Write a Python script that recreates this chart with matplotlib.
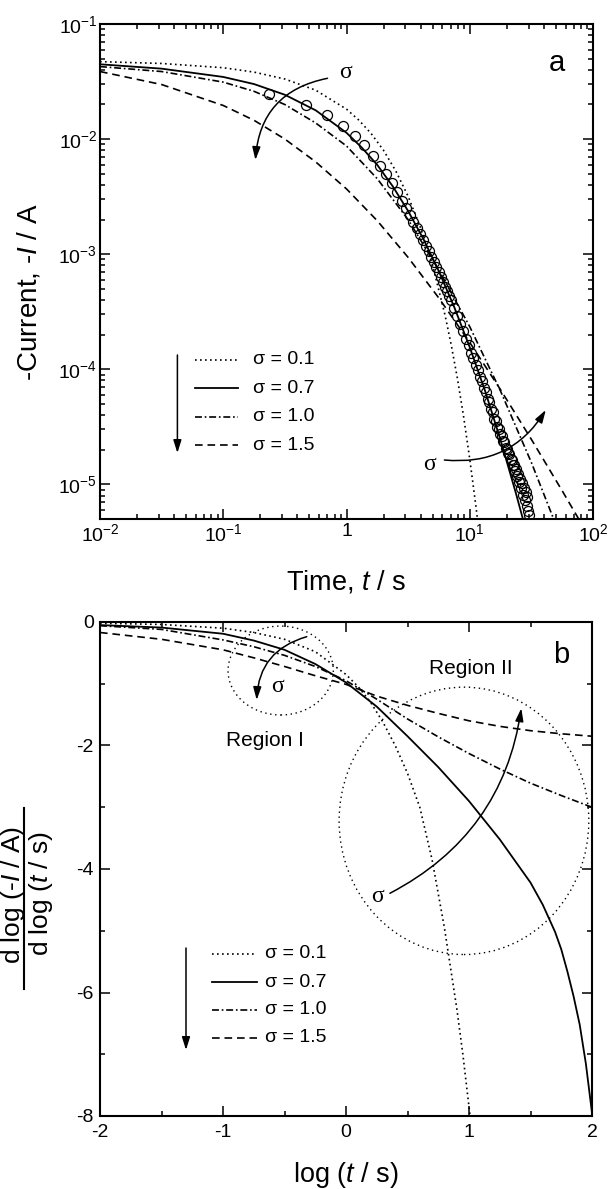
import numpy as np
import matplotlib
matplotlib.use('Agg')
import matplotlib.pyplot as plt
from matplotlib.lines import Line2D
from matplotlib.patches import Ellipse, FancyArrowPatch
from matplotlib.ticker import LogLocator, NullFormatter, MultipleLocator

plt.rcParams['font.family'] = ['Liberation Sans', 'DejaVu Sans']
plt.rcParams['mathtext.fontset'] = 'custom'
plt.rcParams['mathtext.rm'] = 'Liberation Sans'
plt.rcParams['mathtext.it'] = 'Liberation Sans:italic'
plt.rcParams['mathtext.sf'] = 'Liberation Sans'
plt.rcParams['axes.unicode_minus'] = False
plt.rcParams['lines.scale_dashes'] = False

W, H = 612, 1189

sigma_labels = ['σ = 0.1', 'σ = 0.7', 'σ = 1.0', 'σ = 1.5']

# ---- (a) simulated transients: log10(t / s) and log10(-I / A)
a_logt_01 = [-2.0, -1.5, -1.0, -0.75, -0.5, -0.25, 0.0, 0.1, 0.2, 0.3, 0.4,
             0.5, 0.6, 0.7, 0.8, 0.85, 0.9, 0.95, 1.0, 1.05, 1.07]
a_logi_01 = [-1.327, -1.343, -1.380, -1.418, -1.478, -1.575, -1.740, -1.835,
             -1.952, -2.097, -2.277, -2.497, -2.768, -3.103, -3.532, -3.79,
             -4.08, -4.41, -4.78, -5.19, -5.37]

a_logt_07 = [-2.0, -1.5, -1.0, -0.75, -0.5, -0.25, 0.0, 0.125, 0.25, 0.375,
             0.5, 0.625, 0.75, 0.875, 1.0, 1.125, 1.25, 1.375, 1.45]
a_logi_07 = [-1.350, -1.388, -1.460, -1.522, -1.615, -1.750, -1.945, -2.075,
             -2.225, -2.41, -2.625, -2.870, -3.150, -3.462, -3.809, -4.19,
             -4.615, -5.079, -5.375]

a_logt_10 = [-2.0, -1.5, -1.0, -0.75, -0.5, -0.25, 0.0, 0.25, 0.5, 0.75, 1.0,
             1.25, 1.5, 1.75]
a_logi_10 = [-1.370, -1.413, -1.505, -1.585, -1.700, -1.860, -2.060, -2.345,
             -2.700, -3.140, -3.630, -4.190, -4.810, -5.490]

a_logt_15 = [-2.0, -1.5, -1.0, -0.75, -0.5, -0.25, 0.0, 0.25, 0.5, 0.75, 1.0,
             1.25, 1.5, 1.75, 2.0]
a_logi_15 = [-1.413, -1.526, -1.708, -1.837, -2.000, -2.198, -2.433, -2.710,
             -3.028, -3.382, -3.767, -4.178, -4.609, -5.056, -5.513]

# measured transient (open circles): t in s, log10(-I / A)
t_meas = [0.233, 0.466, 0.699, 0.932, 1.165, 1.398, 1.631, 1.864, 2.097, 2.33,
          2.563, 2.796, 3.029, 3.262, 3.495, 3.728, 3.961, 4.194, 4.427, 4.66,
          4.893, 5.126, 5.359, 5.592, 5.825, 6.058, 6.291, 6.524, 6.757, 6.99,
          7.456, 7.922, 8.388, 8.854, 9.32, 9.786, 10.252, 10.718, 11.184,
          11.65, 12.116, 12.582, 13.048, 13.514, 13.98, 14.446, 14.912,
          15.378, 15.844, 16.31, 16.776, 17.242, 17.708, 18.174, 18.64,
          19.106, 19.572, 20.038, 20.504, 20.97, 21.436, 21.902, 22.368,
          22.834, 23.3, 23.766, 24.232, 24.698, 25.164, 25.63, 26.096,
          26.562, 27.028, 27.494, 27.96, 28.426, 28.892, 29.358, 29.824, 30.29]
logi_meas = [-1.61, -1.70, -1.795, -1.885, -1.97, -2.055, -2.145, -2.23,
             -2.305, -2.385, -2.46, -2.535, -2.60, -2.66, -2.72, -2.775,
             -2.825, -2.875, -2.93, -2.975, -3.025, -3.07, -3.115, -3.155,
             -3.20, -3.24, -3.285, -3.32, -3.36, -3.395,
             -3.47, -3.535, -3.61, -3.665, -3.735, -3.785, -3.855, -3.90,
             -3.965, -4.005, -4.07, -4.10, -4.165, -4.195, -4.26, -4.285,
             -4.345, -4.37, -4.43, -4.45, -4.50, -4.52, -4.56, -4.58, -4.62,
             -4.635, -4.68, -4.69, -4.73, -4.74, -4.78, -4.785, -4.83, -4.83,
             -4.88, -4.87, -4.93, -4.91, -4.98, -4.95, -5.03, -4.99, -5.09,
             -5.03, -5.14, -5.07, -5.19, -5.11, -5.23, -5.27]

# ---- (b) logarithmic derivative d log(-I) / d log(t)
b_logt_01 = [-2.0, -1.5, -1.0, -0.75, -0.5, -0.25, 0.0, 0.1, 0.2, 0.3, 0.4,
             0.5, 0.6, 0.7, 0.8, 0.9, 0.95, 1.0, 1.01]
b_slope_01 = [-0.02, -0.04, -0.10, -0.17, -0.28, -0.48, -0.85, -1.05, -1.30,
              -1.62, -2.00, -2.45, -3.00, -3.85, -4.95, -6.25, -7.00, -7.85,
              -8.02]

b_logt_07 = [-2.0, -1.5, -1.0, -0.75, -0.5, -0.25, 0.0, 0.25, 0.5, 0.75, 1.0,
             1.25, 1.5, 1.6, 1.7, 1.75, 1.8, 1.85, 1.9, 1.95, 2.0]
b_slope_07 = [-0.05, -0.09, -0.19, -0.30, -0.45, -0.68, -0.98, -1.37, -1.85,
              -2.35, -2.90, -3.52, -4.22, -4.58, -5.02, -5.30, -5.66, -6.06,
              -6.52, -7.15, -7.95]

b_logt_10 = [-2.0, -1.5, -1.0, -0.75, -0.5, -0.25, 0.0, 0.25, 0.5, 0.75, 1.0,
             1.25, 1.5, 1.75, 2.0]
b_slope_10 = [-0.06, -0.12, -0.29, -0.40, -0.54, -0.72, -0.95, -1.25, -1.57,
              -1.86, -2.13, -2.38, -2.61, -2.81, -3.00]

b_logt_15 = [-2.0, -1.5, -1.0, -0.75, -0.5, -0.25, 0.0, 0.25, 0.5, 0.75, 1.0,
             1.25, 1.5, 1.75, 2.0]
b_slope_15 = [-0.17, -0.28, -0.45, -0.58, -0.72, -0.87, -1.01, -1.20, -1.35,
              -1.48, -1.60, -1.69, -1.76, -1.81, -1.85]

styles = [
    dict(linestyle=(0, (1.2, 2.4)), linewidth=1.2),
    dict(linestyle='-', linewidth=1.3),
    dict(linestyle=(0, (5.0, 2.0, 1.2, 2.0)), linewidth=1.2),
    dict(linestyle=(0, (5.5, 3.5)), linewidth=1.2),
]


def fx(x):
    return x / W


def fy(y):
    return 1 - y / H


def arrow(p0, p1, rad):
    a = FancyArrowPatch((fx(p0[0]), fy(p0[1])), (fx(p1[0]), fy(p1[1])),
                        transform=fig.transFigure,
                        connectionstyle='arc3,rad=%g' % rad,
                        arrowstyle='-|>,head_length=0.7,head_width=0.22',
                        mutation_scale=11, lw=1.1, color='black',
                        shrinkA=0, shrinkB=0)
    fig.add_artist(a)


def draw_legend(rows_y, x0, x1, xt, ax_x, ay0, ay1):
    for y, st, lab in zip(rows_y, styles, sigma_labels):
        fig.add_artist(Line2D([fx(x0), fx(x1)], [fy(y), fy(y)],
                              transform=fig.transFigure, color='black', **st))
        fig.text(fx(xt), fy(y), lab, fontsize=14, ha='left', va='center')
    arrow((ax_x, ay0), (ax_x, ay1), 0)


fig = plt.figure(figsize=(W / 100, H / 100), dpi=100)
ax_a = fig.add_axes([fx(100), fy(519), 493 / W, 495 / H])
ax_b = fig.add_axes([fx(100), fy(1116), 492 / W, 494 / H])

# panel a
curves_a = [(a_logt_01, a_logi_01), (a_logt_07, a_logi_07),
            (a_logt_10, a_logi_10), (a_logt_15, a_logi_15)]
for (lx, ly), st in zip(curves_a, styles):
    ax_a.plot(10.0 ** np.array(lx), 10.0 ** np.array(ly), color='black', **st)
ax_a.plot(t_meas, 10.0 ** np.array(logi_meas), 'o', ls='none', ms=7.2,
          mfc='none', mec='black', mew=0.9, zorder=3)

ax_a.set_xscale('log')
ax_a.set_yscale('log')
ax_a.set_xlim(1e-2, 1e2)
ax_a.set_ylim(5e-6, 1e-1)
ax_a.set_xticks([1e-2, 1e-1, 1, 1e1, 1e2],
                [r'$10^{-2}$', r'$10^{-1}$', '1', r'$10^{1}$', r'$10^{2}$'])
ax_a.set_yticks([1e-5, 1e-4, 1e-3, 1e-2, 1e-1],
                [r'$10^{-5}$', r'$10^{-4}$', r'$10^{-3}$', r'$10^{-2}$', r'$10^{-1}$'])
for axis in (ax_a.xaxis, ax_a.yaxis):
    axis.set_minor_locator(LogLocator(base=10, subs=(2, 3, 4, 5, 6, 7, 8, 9), numticks=20))
    axis.set_minor_formatter(NullFormatter())

# panel b
curves_b = [(b_logt_01, b_slope_01), (b_logt_07, b_slope_07),
            (b_logt_10, b_slope_10), (b_logt_15, b_slope_15)]
for (lx, ly), st in zip(curves_b, styles):
    ax_b.plot(lx, ly, color='black', **st)
ax_b.set_xlim(-2, 2)
ax_b.set_ylim(-8, 0)
ax_b.set_xticks([-2, -1, 0, 1, 2])
ax_b.set_yticks([0, -2, -4, -6, -8])
ax_b.xaxis.set_minor_locator(MultipleLocator(0.5))
ax_b.yaxis.set_minor_locator(MultipleLocator(1))

# regions marked by dotted ellipses
for c, w, h in [((-0.531, -0.786), 0.856, 1.44), ((0.959, -3.22), 2.03, 4.33)]:
    ax_b.add_patch(Ellipse(c, w, h, fill=False, ec='black', lw=1.0,
                           ls=(0, (1.0, 2.6))))

for ax in (ax_a, ax_b):
    ax.tick_params(which='both', direction='in', top=True, right=True,
                   labelsize=14, width=1.1)
    ax.tick_params(which='major', length=7)
    ax.tick_params(which='minor', length=3.5)
    for s in ax.spines.values():
        s.set_linewidth(1.5)
ax_a.tick_params(axis='x', pad=3)
ax_a.tick_params(axis='y', pad=2)
ax_b.tick_params(axis='x', pad=6)
ax_b.tick_params(axis='y', pad=4.5)

# axis titles
fig.text(fx(29), fy(292), r'-Current, -$\mathit{I}$ / A', rotation=90,
         fontsize=20, ha='center', va='center')
fig.text(fx(346), fy(582), r'Time, $\mathit{t}$ / s', fontsize=19.5,
         ha='center', va='center')
fig.text(fx(346), fy(1175), r'log ($\mathit{t}$ / s)', fontsize=19.5,
         ha='center', va='center')
fig.text(fx(13), fy(895), r'd log (-$\mathit{I}$ / A)', rotation=90,
         fontsize=19, ha='center', va='center')
fig.text(fx(41), fy(893), r'd log ($\mathit{t}$ / s)', rotation=90,
         fontsize=19, ha='center', va='center')
fig.add_artist(Line2D([fx(24.5), fx(24.5)], [fy(808), fy(989)],
                      transform=fig.transFigure, color='black', lw=1.5))

# panel letters and annotations
fig.text(fx(557), fy(63), 'a', fontsize=21, ha='center', va='center')
fig.text(fx(561), fy(655), 'b', fontsize=21, ha='center', va='center')
fig.text(fx(265), fy(740), 'Region I', fontsize=15, ha='center', va='center')
fig.text(fx(471), fy(669), 'Region II', fontsize=15, ha='center', va='center')

serif = ['Liberation Serif', 'DejaVu Serif']
fig.text(fx(345), fy(73), 'σ', fontsize=17, family=serif, ha='center', va='center')
fig.text(fx(430), fy(464), 'σ', fontsize=17, family=serif, ha='center', va='center')
fig.text(fx(278), fy(687), 'σ', fontsize=17, family=serif, ha='center', va='center')
fig.text(fx(377), fy(897), 'σ', fontsize=17, family=serif, ha='center', va='center')

arrow((327.5, 78.3), (255.4, 160), 0.38)
arrow((444.4, 460), (545.8, 410), 0.31)
arrow((306.7, 636.7), (256.7, 700), 0.36)
arrow((389.9, 893.3), (521.3, 708.3), 0.255)

draw_legend([360, 388.3, 416.7, 445], 195, 238, 253, 177.4, 355, 453)
draw_legend([954, 982.3, 1010, 1037.7], 212, 257, 265, 186, 948, 1050)

fig.savefig('out.png', dpi=100)
